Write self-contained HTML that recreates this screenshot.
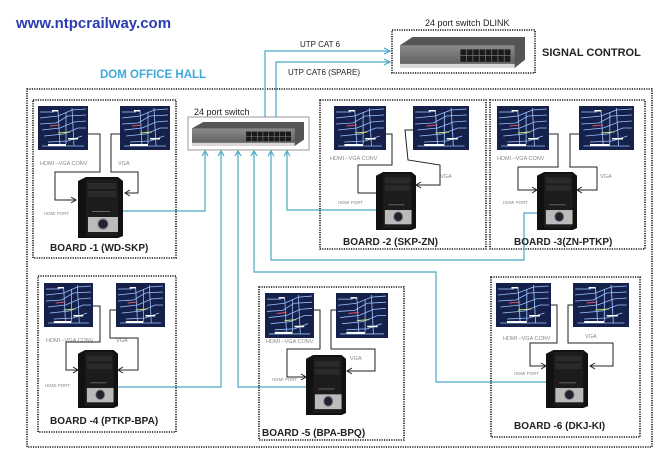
<!DOCTYPE html>
<html><head><meta charset="utf-8"><style>
html,body{margin:0;padding:0;background:#fff;}
svg{display:block;font-family:"Liberation Sans",sans-serif;}
</style></head><body>
<svg width="668" height="456" viewBox="0 0 668 456" xmlns="http://www.w3.org/2000/svg">
<defs>
<linearGradient id="sg" x1="0" y1="0" x2="0" y2="1"><stop offset="0" stop-color="#8a8a8a"/><stop offset="1" stop-color="#5a5a5a"/></linearGradient>
<symbol id="mon" viewBox="0 0 50 44" preserveAspectRatio="none">
<rect x="0" y="0" width="50" height="44" fill="#15214a"/>
<g stroke="#9cc2ff" stroke-width="0.8" fill="none">
<path d="M2 12 L20 10 L34 4 L48 3"/><path d="M2 18 L18 17 L30 10 L48 9"/><path d="M4 24 L22 22 L36 16 L48 15"/>
<path d="M6 30 L26 28 L40 22 L48 22"/><path d="M10 36 L30 35 L44 30"/><path d="M20 4 L22 40"/><path d="M34 2 L36 40"/>
<path d="M2 6 L16 6"/><path d="M4 40 L46 40"/><path d="M28 6 L28 38"/>
</g>
<path d="M12 20 L22 19" stroke="#e05060" stroke-width="1"/>
<path d="M20 27 L32 26" stroke="#cfe070" stroke-width="1"/>
<g fill="#fff"><rect x="14" y="4" width="6" height="1.5"/><rect x="10" y="38" width="18" height="2"/><rect x="30" y="32" width="10" height="1.5"/></g>
</symbol>
<symbol id="pc" viewBox="0 0 45 61" preserveAspectRatio="none">
<path d="M0 4 L8 0 L40 0 L45 4 L45 59 L40 61 L0 61 Z" fill="#111"/>
<rect x="8" y="2" width="32" height="57" fill="#1c1c1c"/>
<rect x="10" y="6" width="28" height="6" fill="#2a2a2a"/><rect x="10" y="14" width="28" height="6" fill="#2a2a2a"/>
<rect x="10" y="40" width="30" height="15" fill="#bbb"/>
<circle cx="25" cy="47" r="5" fill="#223" stroke="#777"/>
<rect x="14" y="34" width="18" height="1" fill="#666"/>
</symbol>
<symbol id="sw" viewBox="0 0 120 30" preserveAspectRatio="none">
<path d="M0 8 L12 0 L120 0 L120 22 L110 30 L0 30 Z" fill="#555"/>
<rect x="0" y="8" width="110" height="22" fill="url(#sg)"/>
<rect x="0" y="26" width="110" height="4" fill="#d8d8d8"/>
<rect x="58" y="12" width="48" height="12" fill="#1a1a1a"/>
<g stroke="#888" stroke-width="0.6"><path d="M58 18 H106"/><path d="M64 12 V24 M70 12 V24 M76 12 V24 M82 12 V24 M88 12 V24 M94 12 V24 M100 12 V24"/></g>
</symbol>
</defs>

<text x="16" y="28" font-size="15" font-weight="bold" fill="#2a3cb0">www.ntpcrailway.com</text>
<text x="100" y="78" font-size="11.5" font-weight="bold" fill="#3fa9d8">DOM OFFICE HALL</text>
<text x="425" y="26" font-size="9" fill="#222">24 port switch DLINK</text>
<text x="542" y="56" font-size="11" font-weight="bold" fill="#222">SIGNAL CONTROL</text>
<text x="300" y="47" font-size="8" fill="#222">UTP CAT 6</text>
<text x="288" y="75" font-size="8" fill="#222">UTP CAT6 (SPARE)</text>
<text x="194" y="115" font-size="9" fill="#222">24 port switch</text>

<g fill="none" stroke="#111" stroke-width="1.6" stroke-dasharray="1.2 1.2">
<rect x="27" y="89" width="625" height="358"/>
<rect x="392" y="30" width="143" height="43"/>
<rect x="33" y="100" width="143" height="158"/>
<rect x="320" y="100" width="166" height="149"/>
<rect x="490" y="100" width="155" height="149"/>
<rect x="38" y="276" width="138" height="156"/>
<rect x="259" y="287" width="145" height="153"/>
<rect x="491" y="277" width="149" height="160"/>
</g>

<rect x="188" y="117" width="121" height="33" fill="#fff" stroke="#999"/>
<use href="#sw" x="192" y="122" width="112" height="24"/>
<use href="#sw" x="400" y="37" width="125" height="31"/>

<g fill="none" stroke="#4aa8c8" stroke-width="1.2">
<path d="M265 117 V51 H390"/><path d="M276 117 V62 H390"/>
<path d="M123 211 H205 V151"/>
<path d="M118 387 H221 V151"/>
<path d="M310 387 H238 V151"/>
<path d="M546 382 H436 V272 H254 V151"/>
<path d="M537 213 H524 V260 H271 V151"/>
<path d="M376 210 H287 V151"/>
<path d="M384 48 L390 51 L384 54 M384 59 L390 62 L384 65"/>
<path d="M202 156 L205 151 L208 156 M218 156 L221 151 L224 156 M235 156 L238 151 L241 156 M251 156 L254 151 L257 156 M268 156 L271 151 L274 156 M284 156 L287 151 L290 156"/>
</g>

<g font-size="5.5" fill="#888">
<use href="#mon" x="38" y="106" width="50" height="44"/><use href="#mon" x="120" y="106" width="50" height="44"/>
<use href="#pc" x="78" y="177" width="45" height="61"/>
<text x="40" y="165">HDMI –VGA CONV</text><text x="118" y="165">VGA</text><text x="44" y="215" font-size="4.5">HDMI PORT</text>

<use href="#mon" x="334" y="106" width="52" height="44"/><use href="#mon" x="413" y="106" width="56" height="44"/>
<use href="#pc" x="376" y="172" width="40" height="58"/>
<text x="330" y="160">HDMI –VGA CONV</text><text x="440" y="178">VGA</text><text x="338" y="204" font-size="4.5">HDMI PORT</text>

<use href="#mon" x="497" y="106" width="52" height="44"/><use href="#mon" x="579" y="106" width="55" height="44"/>
<use href="#pc" x="537" y="172" width="40" height="58"/>
<text x="497" y="160">HDMI –VGA CONV</text><text x="600" y="178">VGA</text><text x="503" y="204" font-size="4.5">HDMI PORT</text>

<use href="#mon" x="44" y="283" width="49" height="44"/><use href="#mon" x="116" y="283" width="49" height="44"/>
<use href="#pc" x="78" y="350" width="40" height="58"/>
<text x="46" y="342">HDMI –VGA CONV</text><text x="116" y="342">VGA</text><text x="45" y="387" font-size="4.5">HDMI PORT</text>

<use href="#mon" x="265" y="293" width="49" height="45"/><use href="#mon" x="336" y="293" width="52" height="45"/>
<use href="#pc" x="306" y="355" width="40" height="60"/>
<text x="266" y="343">HDMI –VGA CONV</text><text x="350" y="360">VGA</text><text x="272" y="381" font-size="4.5">HDMI PORT</text>

<use href="#mon" x="496" y="283" width="55" height="44"/><use href="#mon" x="573" y="283" width="56" height="44"/>
<use href="#pc" x="546" y="350" width="42" height="58"/>
<text x="503" y="340">HDMI –VGA CONV</text><text x="585" y="338">VGA</text><text x="514" y="375" font-size="4.5">HDMI PORT</text>
</g>

<g fill="none" stroke="#222" stroke-width="1">
<path d="M88 134 H100 V172 H55 V200 H76 M71 197 L76 200 L71 203"/>
<path d="M120 134 H111 V172 H138 V193 H125 M130 190 L125 193 L130 196"/>
<path d="M386 134 H392 V165 H358 V193 H376"/>
<path d="M413 130 H405 L408 160 L440 165 V185 H416 M421 182 L416 185 L421 188"/>
<path d="M549 134 H558 V167 H518 V190 H537 M532 187 L537 190 L532 193"/>
<path d="M579 134 H570 V167 H597 V190 H577 M582 187 L577 190 L582 193"/>
<path d="M93 306 H100 V342 H66 V370 H78 M73 367 L78 370 L73 373"/>
<path d="M116 310 H110 V338 H138 V370 H118 M123 367 L118 370 L123 373"/>
<path d="M314 310 H320 V349 H287 V377 H306 M301 374 L306 377 L301 380"/>
<path d="M336 310 H331 V349 H375 V371 H347 M352 368 L347 371 L352 374"/>
<path d="M551 305 H557 V343 H530 V366 H546 M541 363 L546 366 L541 369"/>
<path d="M573 305 H568 V343 H613 V366 H590 M595 363 L590 366 L595 369"/>
</g>

<g font-size="10" font-weight="bold" fill="#222">
<text x="50" y="251">BOARD -1 (WD-SKP)</text>
<text x="343" y="245">BOARD -2 (SKP-ZN)</text>
<text x="514" y="245">BOARD -3(ZN-PTKP)</text>
<text x="50" y="424">BOARD -4 (PTKP-BPA)</text>
<text x="262" y="436">BOARD -5 (BPA-BPQ)</text>
<text x="514" y="429">BOARD -6 (DKJ-KI)</text>
</g>
</svg>
</body></html>
